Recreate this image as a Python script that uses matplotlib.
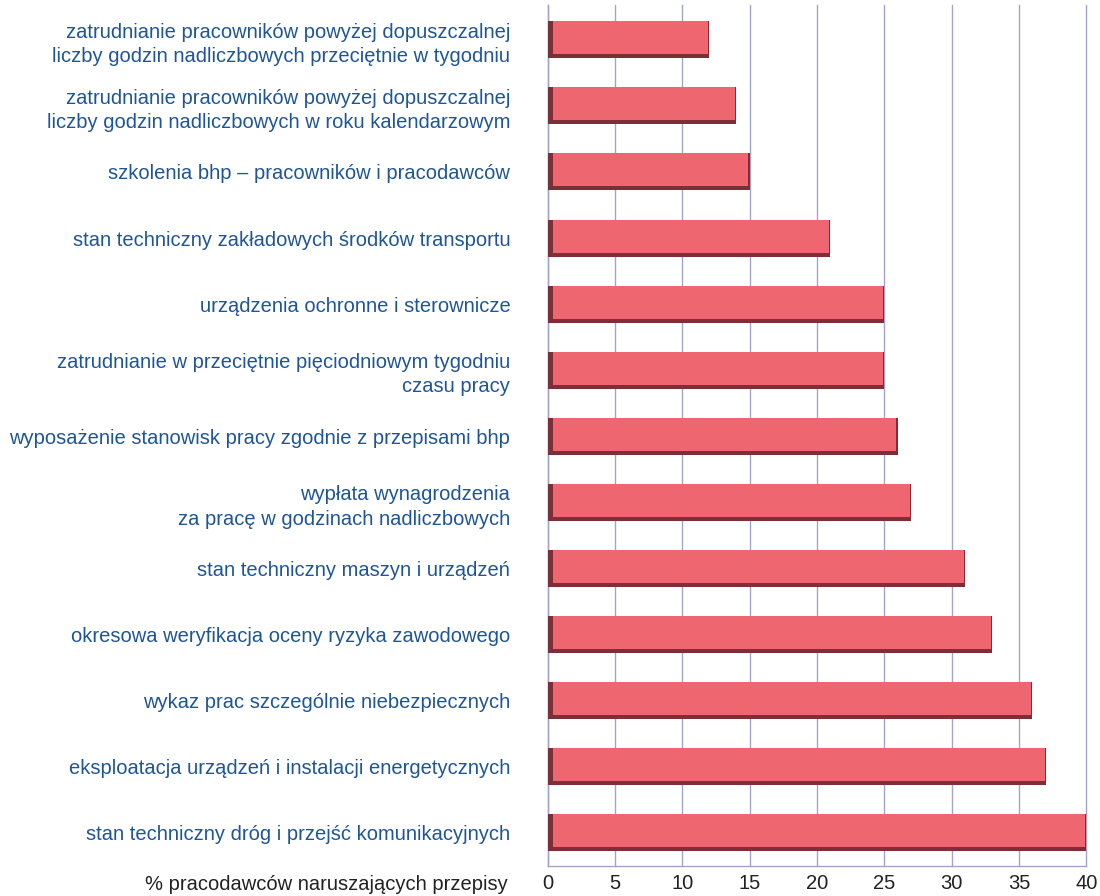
import numpy as np
import matplotlib.pyplot as plt

plt.rcParams['font.family'] = ['Liberation Sans', 'DejaVu Sans']

categories = [
    "zatrudnianie pracowników powyżej dopuszczalnej\nliczby godzin nadliczbowych przeciętnie w tygodniu",
    "zatrudnianie pracowników powyżej dopuszczalnej\nliczby godzin nadliczbowych w roku kalendarzowym",
    "szkolenia bhp – pracowników i pracodawców",
    "stan techniczny zakładowych środków transportu",
    "urządzenia ochronne i sterownicze",
    "zatrudnianie w przeciętnie pięciodniowym tygodniu\nczasu pracy",
    "wyposażenie stanowisk pracy zgodnie z przepisami bhp",
    "wypłata wynagrodzenia\nza pracę w godzinach nadliczbowych",
    "stan techniczny maszyn i urządzeń",
    "okresowa weryfikacja oceny ryzyka zawodowego",
    "wykaz prac szczególnie niebezpiecznych",
    "eksploatacja urządzeń i instalacji energetycznych",
    "stan techniczny dróg i przejść komunikacyjnych",
]
values = [12, 14, 15, 21, 25, 25, 26, 27, 31, 33, 36, 37, 40]
xticks = [0, 5, 10, 15, 20, 25, 30, 35, 40]
xlabel = "% pracodawców naruszających przepisy"

main_col = '#ee6670'
dark_col = '#7e2e36'
grid_col = '#a4a4c8'
label_col = '#1f5597'

fig = plt.figure(figsize=(11, 8.96), dpi=100)
ax = fig.add_axes([0.498, 0.0335, 0.4895, 0.9605])

n = len(values)
y = np.arange(n)
vals = np.array(values, dtype=float)
h = 0.56
edge_x = 0.35   # šířka tmavé levé hrany
edge_y = 0.06   # spodní stín

# tmavý podklad + hlavní pruh
ax.barh(y, vals, height=h, color=dark_col, zorder=3)
ax.barh(y - edge_y / 2, vals - edge_x - 0.1, left=edge_x, height=h - edge_y,
        color=main_col, zorder=4)

ax.set_xlim(0, 40)
ax.set_ylim(n - 0.5, -0.52)
ax.set_xticks(xticks)
ax.set_xticklabels([str(t) for t in xticks], fontsize=14.5, color='#222222')
ax.tick_params(axis='x', length=0, pad=6)
ax.set_yticks(y)
ax.set_yticklabels(categories, fontsize=14.5, color=label_col, linespacing=1.35)
ax.tick_params(axis='y', length=0, pad=27)
for t in ax.get_yticklabels():
    t.set_ha('right')

ax.grid(axis='x', color=grid_col, lw=1.0, zorder=0)
for gl in ax.get_xgridlines():
    gl.set_clip_on(False)
for s in ['top', 'right']:
    ax.spines[s].set_visible(False)
for s in ['left', 'bottom']:
    ax.spines[s].set_color(grid_col)
    ax.spines[s].set_linewidth(1.0)

ax.text(-0.074, -0.021, xlabel, transform=ax.transAxes, ha='right', va='center',
        fontsize=14.5, color='#222222')

plt.savefig('out.png', dpi=100)
